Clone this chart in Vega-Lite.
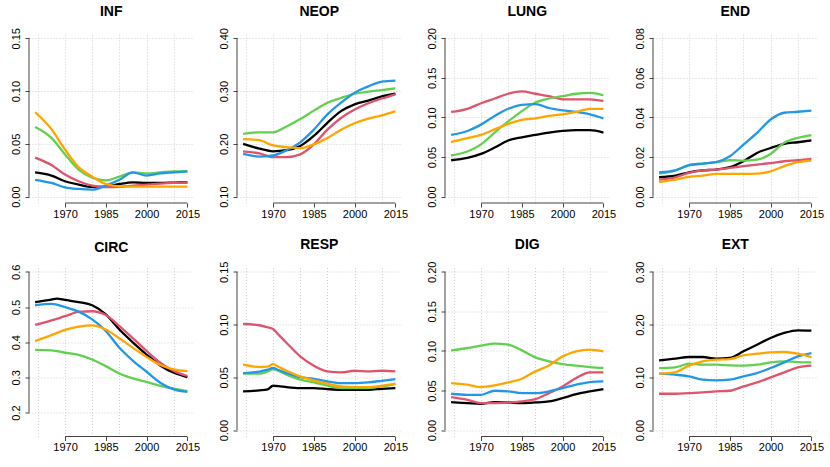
{
"$schema":"https://vega.github.io/schema/vega-lite/v6.json",
"padding":{"left":9,"top":4,"right":5,"bottom":5},
"datasets":{"d":[
{"p":"INF","s":"k","x":1959,"y":0.023},{"p":"INF","s":"k","x":1965,"y":0.020},{"p":"INF","s":"k","x":1970,"y":0.0146},{"p":"INF","s":"k","x":1975,"y":0.0114},{"p":"INF","s":"k","x":1980,"y":0.0092},{"p":"INF","s":"k","x":1985,"y":0.0095},{"p":"INF","s":"k","x":1990,"y":0.012},{"p":"INF","s":"k","x":1995,"y":0.0136},{"p":"INF","s":"k","x":2000,"y":0.013},{"p":"INF","s":"k","x":2005,"y":0.013},{"p":"INF","s":"k","x":2010,"y":0.0133},{"p":"INF","s":"k","x":2015,"y":0.0136},
{"p":"INF","s":"r","x":1959,"y":0.037},{"p":"INF","s":"r","x":1965,"y":0.030},{"p":"INF","s":"r","x":1970,"y":0.021},{"p":"INF","s":"r","x":1975,"y":0.0146},{"p":"INF","s":"r","x":1980,"y":0.0104},{"p":"INF","s":"r","x":1985,"y":0.009},{"p":"INF","s":"r","x":1990,"y":0.0092},{"p":"INF","s":"r","x":1995,"y":0.0104},{"p":"INF","s":"r","x":2000,"y":0.0114},{"p":"INF","s":"r","x":2005,"y":0.0123},{"p":"INF","s":"r","x":2010,"y":0.013},{"p":"INF","s":"r","x":2015,"y":0.0133},
{"p":"INF","s":"g","x":1959,"y":0.066},{"p":"INF","s":"g","x":1965,"y":0.0557},{"p":"INF","s":"g","x":1970,"y":0.040},{"p":"INF","s":"g","x":1975,"y":0.0256},{"p":"INF","s":"g","x":1980,"y":0.018},{"p":"INF","s":"g","x":1985,"y":0.0155},{"p":"INF","s":"g","x":1990,"y":0.019},{"p":"INF","s":"g","x":1995,"y":0.023},{"p":"INF","s":"g","x":2000,"y":0.022},{"p":"INF","s":"g","x":2005,"y":0.023},{"p":"INF","s":"g","x":2010,"y":0.024},{"p":"INF","s":"g","x":2015,"y":0.024},
{"p":"INF","s":"b","x":1959,"y":0.016},{"p":"INF","s":"b","x":1965,"y":0.013},{"p":"INF","s":"b","x":1970,"y":0.0089},{"p":"INF","s":"b","x":1975,"y":0.0073},{"p":"INF","s":"b","x":1980,"y":0.0066},{"p":"INF","s":"b","x":1985,"y":0.0104},{"p":"INF","s":"b","x":1990,"y":0.016},{"p":"INF","s":"b","x":1995,"y":0.023},{"p":"INF","s":"b","x":2000,"y":0.020},{"p":"INF","s":"b","x":2005,"y":0.022},{"p":"INF","s":"b","x":2010,"y":0.023},{"p":"INF","s":"b","x":2015,"y":0.024},
{"p":"INF","s":"o","x":1959,"y":0.080},{"p":"INF","s":"o","x":1965,"y":0.064},{"p":"INF","s":"o","x":1970,"y":0.0446},{"p":"INF","s":"o","x":1975,"y":0.028},{"p":"INF","s":"o","x":1980,"y":0.019},{"p":"INF","s":"o","x":1985,"y":0.012},{"p":"INF","s":"o","x":1990,"y":0.0098},{"p":"INF","s":"o","x":1995,"y":0.0095},{"p":"INF","s":"o","x":2000,"y":0.0095},{"p":"INF","s":"o","x":2005,"y":0.0095},{"p":"INF","s":"o","x":2010,"y":0.0095},{"p":"INF","s":"o","x":2015,"y":0.0095},
{"p":"NEOP","s":"k","x":1959,"y":0.200},{"p":"NEOP","s":"k","x":1965,"y":0.191},{"p":"NEOP","s":"k","x":1970,"y":0.186},{"p":"NEOP","s":"k","x":1975,"y":0.188},{"p":"NEOP","s":"k","x":1980,"y":0.196},{"p":"NEOP","s":"k","x":1985,"y":0.215},{"p":"NEOP","s":"k","x":1990,"y":0.240},{"p":"NEOP","s":"k","x":1995,"y":0.262},{"p":"NEOP","s":"k","x":2000,"y":0.275},{"p":"NEOP","s":"k","x":2005,"y":0.282},{"p":"NEOP","s":"k","x":2010,"y":0.290},{"p":"NEOP","s":"k","x":2015,"y":0.295},
{"p":"NEOP","s":"r","x":1959,"y":0.186},{"p":"NEOP","s":"r","x":1965,"y":0.182},{"p":"NEOP","s":"r","x":1970,"y":0.175},{"p":"NEOP","s":"r","x":1975,"y":0.175},{"p":"NEOP","s":"r","x":1980,"y":0.180},{"p":"NEOP","s":"r","x":1985,"y":0.199},{"p":"NEOP","s":"r","x":1990,"y":0.227},{"p":"NEOP","s":"r","x":1995,"y":0.249},{"p":"NEOP","s":"r","x":2000,"y":0.265},{"p":"NEOP","s":"r","x":2005,"y":0.277},{"p":"NEOP","s":"r","x":2010,"y":0.286},{"p":"NEOP","s":"r","x":2015,"y":0.294},
{"p":"NEOP","s":"g","x":1959,"y":0.219},{"p":"NEOP","s":"g","x":1965,"y":0.222},{"p":"NEOP","s":"g","x":1970,"y":0.222},{"p":"NEOP","s":"g","x":1975,"y":0.233},{"p":"NEOP","s":"g","x":1980,"y":0.247},{"p":"NEOP","s":"g","x":1985,"y":0.263},{"p":"NEOP","s":"g","x":1990,"y":0.278},{"p":"NEOP","s":"g","x":1995,"y":0.287},{"p":"NEOP","s":"g","x":2000,"y":0.295},{"p":"NEOP","s":"g","x":2005,"y":0.299},{"p":"NEOP","s":"g","x":2010,"y":0.302},{"p":"NEOP","s":"g","x":2015,"y":0.305},
{"p":"NEOP","s":"b","x":1959,"y":0.181},{"p":"NEOP","s":"b","x":1965,"y":0.176},{"p":"NEOP","s":"b","x":1970,"y":0.178},{"p":"NEOP","s":"b","x":1975,"y":0.188},{"p":"NEOP","s":"b","x":1980,"y":0.203},{"p":"NEOP","s":"b","x":1985,"y":0.227},{"p":"NEOP","s":"b","x":1990,"y":0.256},{"p":"NEOP","s":"b","x":1995,"y":0.278},{"p":"NEOP","s":"b","x":2000,"y":0.297},{"p":"NEOP","s":"b","x":2005,"y":0.309},{"p":"NEOP","s":"b","x":2010,"y":0.318},{"p":"NEOP","s":"b","x":2015,"y":0.320},
{"p":"NEOP","s":"o","x":1959,"y":0.209},{"p":"NEOP","s":"o","x":1965,"y":0.207},{"p":"NEOP","s":"o","x":1970,"y":0.197},{"p":"NEOP","s":"o","x":1975,"y":0.194},{"p":"NEOP","s":"o","x":1980,"y":0.192},{"p":"NEOP","s":"o","x":1985,"y":0.199},{"p":"NEOP","s":"o","x":1990,"y":0.211},{"p":"NEOP","s":"o","x":1995,"y":0.227},{"p":"NEOP","s":"o","x":2000,"y":0.239},{"p":"NEOP","s":"o","x":2005,"y":0.248},{"p":"NEOP","s":"o","x":2010,"y":0.254},{"p":"NEOP","s":"o","x":2015,"y":0.262},
{"p":"LUNG","s":"k","x":1959,"y":0.046},{"p":"LUNG","s":"k","x":1965,"y":0.049},{"p":"LUNG","s":"k","x":1970,"y":0.054},{"p":"LUNG","s":"k","x":1975,"y":0.062},{"p":"LUNG","s":"k","x":1980,"y":0.071},{"p":"LUNG","s":"k","x":1985,"y":0.075},{"p":"LUNG","s":"k","x":1990,"y":0.078},{"p":"LUNG","s":"k","x":1995,"y":0.081},{"p":"LUNG","s":"k","x":2000,"y":0.083},{"p":"LUNG","s":"k","x":2005,"y":0.084},{"p":"LUNG","s":"k","x":2010,"y":0.084},{"p":"LUNG","s":"k","x":2015,"y":0.081},
{"p":"LUNG","s":"r","x":1959,"y":0.107},{"p":"LUNG","s":"r","x":1965,"y":0.111},{"p":"LUNG","s":"r","x":1970,"y":0.118},{"p":"LUNG","s":"r","x":1975,"y":0.124},{"p":"LUNG","s":"r","x":1980,"y":0.130},{"p":"LUNG","s":"r","x":1985,"y":0.133},{"p":"LUNG","s":"r","x":1990,"y":0.130},{"p":"LUNG","s":"r","x":1995,"y":0.127},{"p":"LUNG","s":"r","x":2000,"y":0.123},{"p":"LUNG","s":"r","x":2005,"y":0.123},{"p":"LUNG","s":"r","x":2010,"y":0.123},{"p":"LUNG","s":"r","x":2015,"y":0.121},
{"p":"LUNG","s":"g","x":1959,"y":0.052},{"p":"LUNG","s":"g","x":1965,"y":0.057},{"p":"LUNG","s":"g","x":1970,"y":0.066},{"p":"LUNG","s":"g","x":1975,"y":0.081},{"p":"LUNG","s":"g","x":1980,"y":0.095},{"p":"LUNG","s":"g","x":1985,"y":0.108},{"p":"LUNG","s":"g","x":1990,"y":0.119},{"p":"LUNG","s":"g","x":1995,"y":0.124},{"p":"LUNG","s":"g","x":2000,"y":0.127},{"p":"LUNG","s":"g","x":2005,"y":0.130},{"p":"LUNG","s":"g","x":2010,"y":0.131},{"p":"LUNG","s":"g","x":2015,"y":0.128},
{"p":"LUNG","s":"b","x":1959,"y":0.078},{"p":"LUNG","s":"b","x":1965,"y":0.083},{"p":"LUNG","s":"b","x":1970,"y":0.091},{"p":"LUNG","s":"b","x":1975,"y":0.102},{"p":"LUNG","s":"b","x":1980,"y":0.111},{"p":"LUNG","s":"b","x":1985,"y":0.116},{"p":"LUNG","s":"b","x":1990,"y":0.117},{"p":"LUNG","s":"b","x":1995,"y":0.112},{"p":"LUNG","s":"b","x":2000,"y":0.109},{"p":"LUNG","s":"b","x":2005,"y":0.107},{"p":"LUNG","s":"b","x":2010,"y":0.104},{"p":"LUNG","s":"b","x":2015,"y":0.099},
{"p":"LUNG","s":"o","x":1959,"y":0.069},{"p":"LUNG","s":"o","x":1965,"y":0.074},{"p":"LUNG","s":"o","x":1970,"y":0.078},{"p":"LUNG","s":"o","x":1975,"y":0.085},{"p":"LUNG","s":"o","x":1980,"y":0.092},{"p":"LUNG","s":"o","x":1985,"y":0.097},{"p":"LUNG","s":"o","x":1990,"y":0.099},{"p":"LUNG","s":"o","x":1995,"y":0.102},{"p":"LUNG","s":"o","x":2000,"y":0.104},{"p":"LUNG","s":"o","x":2005,"y":0.107},{"p":"LUNG","s":"o","x":2010,"y":0.111},{"p":"LUNG","s":"o","x":2015,"y":0.111},
{"p":"END","s":"k","x":1959,"y":0.0098},{"p":"END","s":"k","x":1965,"y":0.0106},{"p":"END","s":"k","x":1970,"y":0.0123},{"p":"END","s":"k","x":1975,"y":0.0133},{"p":"END","s":"k","x":1980,"y":0.0137},{"p":"END","s":"k","x":1985,"y":0.0149},{"p":"END","s":"k","x":1990,"y":0.0179},{"p":"END","s":"k","x":1995,"y":0.0221},{"p":"END","s":"k","x":2000,"y":0.0246},{"p":"END","s":"k","x":2005,"y":0.0267},{"p":"END","s":"k","x":2010,"y":0.0275},{"p":"END","s":"k","x":2015,"y":0.0284},
{"p":"END","s":"r","x":1959,"y":0.0086},{"p":"END","s":"r","x":1965,"y":0.0098},{"p":"END","s":"r","x":1970,"y":0.0120},{"p":"END","s":"r","x":1975,"y":0.0133},{"p":"END","s":"r","x":1980,"y":0.0137},{"p":"END","s":"r","x":1985,"y":0.0145},{"p":"END","s":"r","x":1990,"y":0.0154},{"p":"END","s":"r","x":1995,"y":0.0162},{"p":"END","s":"r","x":2000,"y":0.0170},{"p":"END","s":"r","x":2005,"y":0.0179},{"p":"END","s":"r","x":2010,"y":0.0184},{"p":"END","s":"r","x":2015,"y":0.0191},
{"p":"END","s":"g","x":1959,"y":0.0116},{"p":"END","s":"g","x":1965,"y":0.0133},{"p":"END","s":"g","x":1970,"y":0.0159},{"p":"END","s":"g","x":1975,"y":0.0167},{"p":"END","s":"g","x":1980,"y":0.0174},{"p":"END","s":"g","x":1985,"y":0.0184},{"p":"END","s":"g","x":1990,"y":0.0182},{"p":"END","s":"g","x":1995,"y":0.0187},{"p":"END","s":"g","x":2000,"y":0.0216},{"p":"END","s":"g","x":2005,"y":0.0272},{"p":"END","s":"g","x":2010,"y":0.0297},{"p":"END","s":"g","x":2015,"y":0.0311},
{"p":"END","s":"b","x":1959,"y":0.0123},{"p":"END","s":"b","x":1965,"y":0.0133},{"p":"END","s":"b","x":1970,"y":0.0159},{"p":"END","s":"b","x":1975,"y":0.0167},{"p":"END","s":"b","x":1980,"y":0.0174},{"p":"END","s":"b","x":1985,"y":0.0204},{"p":"END","s":"b","x":1990,"y":0.0263},{"p":"END","s":"b","x":1995,"y":0.0322},{"p":"END","s":"b","x":2000,"y":0.0390},{"p":"END","s":"b","x":2005,"y":0.0424},{"p":"END","s":"b","x":2010,"y":0.0429},{"p":"END","s":"b","x":2015,"y":0.0435},
{"p":"END","s":"o","x":1959,"y":0.0074},{"p":"END","s":"o","x":1965,"y":0.0086},{"p":"END","s":"o","x":1970,"y":0.0100},{"p":"END","s":"o","x":1975,"y":0.0106},{"p":"END","s":"o","x":1980,"y":0.0115},{"p":"END","s":"o","x":1985,"y":0.0115},{"p":"END","s":"o","x":1990,"y":0.0115},{"p":"END","s":"o","x":1995,"y":0.0116},{"p":"END","s":"o","x":2000,"y":0.0128},{"p":"END","s":"o","x":2005,"y":0.0154},{"p":"END","s":"o","x":2010,"y":0.0174},{"p":"END","s":"o","x":2015,"y":0.0182},
{"p":"CIRC","s":"k","x":1959,"y":0.514},{"p":"CIRC","s":"k","x":1965,"y":0.521},{"p":"CIRC","s":"k","x":1967,"y":0.524},{"p":"CIRC","s":"k","x":1970,"y":0.520},{"p":"CIRC","s":"k","x":1975,"y":0.514},{"p":"CIRC","s":"k","x":1980,"y":0.505},{"p":"CIRC","s":"k","x":1985,"y":0.479},{"p":"CIRC","s":"k","x":1990,"y":0.436},{"p":"CIRC","s":"k","x":1995,"y":0.399},{"p":"CIRC","s":"k","x":2000,"y":0.365},{"p":"CIRC","s":"k","x":2005,"y":0.334},{"p":"CIRC","s":"k","x":2010,"y":0.313},{"p":"CIRC","s":"k","x":2015,"y":0.301},
{"p":"CIRC","s":"r","x":1959,"y":0.449},{"p":"CIRC","s":"r","x":1965,"y":0.462},{"p":"CIRC","s":"r","x":1970,"y":0.474},{"p":"CIRC","s":"r","x":1975,"y":0.486},{"p":"CIRC","s":"r","x":1980,"y":0.488},{"p":"CIRC","s":"r","x":1985,"y":0.477},{"p":"CIRC","s":"r","x":1990,"y":0.446},{"p":"CIRC","s":"r","x":1995,"y":0.411},{"p":"CIRC","s":"r","x":2000,"y":0.375},{"p":"CIRC","s":"r","x":2005,"y":0.342},{"p":"CIRC","s":"r","x":2010,"y":0.318},{"p":"CIRC","s":"r","x":2015,"y":0.304},
{"p":"CIRC","s":"g","x":1959,"y":0.378},{"p":"CIRC","s":"g","x":1965,"y":0.377},{"p":"CIRC","s":"g","x":1970,"y":0.370},{"p":"CIRC","s":"g","x":1975,"y":0.364},{"p":"CIRC","s":"g","x":1980,"y":0.351},{"p":"CIRC","s":"g","x":1985,"y":0.332},{"p":"CIRC","s":"g","x":1990,"y":0.311},{"p":"CIRC","s":"g","x":1995,"y":0.297},{"p":"CIRC","s":"g","x":2000,"y":0.287},{"p":"CIRC","s":"g","x":2005,"y":0.276},{"p":"CIRC","s":"g","x":2010,"y":0.268},{"p":"CIRC","s":"g","x":2015,"y":0.261},
{"p":"CIRC","s":"b","x":1959,"y":0.505},{"p":"CIRC","s":"b","x":1965,"y":0.509},{"p":"CIRC","s":"b","x":1970,"y":0.500},{"p":"CIRC","s":"b","x":1975,"y":0.487},{"p":"CIRC","s":"b","x":1980,"y":0.465},{"p":"CIRC","s":"b","x":1985,"y":0.432},{"p":"CIRC","s":"b","x":1990,"y":0.384},{"p":"CIRC","s":"b","x":1995,"y":0.347},{"p":"CIRC","s":"b","x":2000,"y":0.316},{"p":"CIRC","s":"b","x":2005,"y":0.285},{"p":"CIRC","s":"b","x":2010,"y":0.266},{"p":"CIRC","s":"b","x":2015,"y":0.259},
{"p":"CIRC","s":"o","x":1959,"y":0.403},{"p":"CIRC","s":"o","x":1965,"y":0.420},{"p":"CIRC","s":"o","x":1970,"y":0.435},{"p":"CIRC","s":"o","x":1975,"y":0.444},{"p":"CIRC","s":"o","x":1980,"y":0.448},{"p":"CIRC","s":"o","x":1985,"y":0.436},{"p":"CIRC","s":"o","x":1990,"y":0.411},{"p":"CIRC","s":"o","x":1995,"y":0.384},{"p":"CIRC","s":"o","x":2000,"y":0.358},{"p":"CIRC","s":"o","x":2005,"y":0.335},{"p":"CIRC","s":"o","x":2010,"y":0.323},{"p":"CIRC","s":"o","x":2015,"y":0.318},
{"p":"RESP","s":"k","x":1959,"y":0.0367},{"p":"RESP","s":"k","x":1965,"y":0.0377},{"p":"RESP","s":"k","x":1968,"y":0.0387},{"p":"RESP","s":"k","x":1970,"y":0.0421},{"p":"RESP","s":"k","x":1972,"y":0.0418},{"p":"RESP","s":"k","x":1975,"y":0.0408},{"p":"RESP","s":"k","x":1980,"y":0.0399},{"p":"RESP","s":"k","x":1985,"y":0.0399},{"p":"RESP","s":"k","x":1990,"y":0.0389},{"p":"RESP","s":"k","x":1995,"y":0.0383},{"p":"RESP","s":"k","x":2000,"y":0.0383},{"p":"RESP","s":"k","x":2005,"y":0.0383},{"p":"RESP","s":"k","x":2010,"y":0.0392},{"p":"RESP","s":"k","x":2015,"y":0.0399},
{"p":"RESP","s":"r","x":1959,"y":0.1006},{"p":"RESP","s":"r","x":1965,"y":0.0994},{"p":"RESP","s":"r","x":1968,"y":0.0975},{"p":"RESP","s":"r","x":1970,"y":0.0959},{"p":"RESP","s":"r","x":1972,"y":0.0905},{"p":"RESP","s":"r","x":1975,"y":0.0826},{"p":"RESP","s":"r","x":1980,"y":0.0699},{"p":"RESP","s":"r","x":1985,"y":0.0611},{"p":"RESP","s":"r","x":1990,"y":0.0557},{"p":"RESP","s":"r","x":1995,"y":0.0547},{"p":"RESP","s":"r","x":2000,"y":0.0563},{"p":"RESP","s":"r","x":2005,"y":0.0557},{"p":"RESP","s":"r","x":2010,"y":0.0563},{"p":"RESP","s":"r","x":2015,"y":0.0557},
{"p":"RESP","s":"g","x":1959,"y":0.0535},{"p":"RESP","s":"g","x":1965,"y":0.0535},{"p":"RESP","s":"g","x":1968,"y":0.0556},{"p":"RESP","s":"g","x":1970,"y":0.0579},{"p":"RESP","s":"g","x":1972,"y":0.0560},{"p":"RESP","s":"g","x":1975,"y":0.0525},{"p":"RESP","s":"g","x":1980,"y":0.0478},{"p":"RESP","s":"g","x":1985,"y":0.0453},{"p":"RESP","s":"g","x":1990,"y":0.0421},{"p":"RESP","s":"g","x":1995,"y":0.0399},{"p":"RESP","s":"g","x":2000,"y":0.0399},{"p":"RESP","s":"g","x":2005,"y":0.0399},{"p":"RESP","s":"g","x":2010,"y":0.0415},{"p":"RESP","s":"g","x":2015,"y":0.0437},
{"p":"RESP","s":"b","x":1959,"y":0.0541},{"p":"RESP","s":"b","x":1965,"y":0.0555},{"p":"RESP","s":"b","x":1968,"y":0.0573},{"p":"RESP","s":"b","x":1970,"y":0.0589},{"p":"RESP","s":"b","x":1972,"y":0.0570},{"p":"RESP","s":"b","x":1975,"y":0.0541},{"p":"RESP","s":"b","x":1980,"y":0.0503},{"p":"RESP","s":"b","x":1985,"y":0.0487},{"p":"RESP","s":"b","x":1990,"y":0.0462},{"p":"RESP","s":"b","x":1995,"y":0.0446},{"p":"RESP","s":"b","x":2000,"y":0.0446},{"p":"RESP","s":"b","x":2005,"y":0.0453},{"p":"RESP","s":"b","x":2010,"y":0.0468},{"p":"RESP","s":"b","x":2015,"y":0.0484},
{"p":"RESP","s":"o","x":1959,"y":0.062},{"p":"RESP","s":"o","x":1965,"y":0.0598},{"p":"RESP","s":"o","x":1968,"y":0.0602},{"p":"RESP","s":"o","x":1970,"y":0.0625},{"p":"RESP","s":"o","x":1972,"y":0.0600},{"p":"RESP","s":"o","x":1975,"y":0.0563},{"p":"RESP","s":"o","x":1980,"y":0.0509},{"p":"RESP","s":"o","x":1985,"y":0.0472},{"p":"RESP","s":"o","x":1990,"y":0.044},{"p":"RESP","s":"o","x":1995,"y":0.0415},{"p":"RESP","s":"o","x":2000,"y":0.0408},{"p":"RESP","s":"o","x":2005,"y":0.0408},{"p":"RESP","s":"o","x":2010,"y":0.0421},{"p":"RESP","s":"o","x":2015,"y":0.044},
{"p":"DIG","s":"k","x":1959,"y":0.0354},{"p":"DIG","s":"k","x":1965,"y":0.0342},{"p":"DIG","s":"k","x":1970,"y":0.0333},{"p":"DIG","s":"k","x":1975,"y":0.0354},{"p":"DIG","s":"k","x":1980,"y":0.035},{"p":"DIG","s":"k","x":1985,"y":0.0342},{"p":"DIG","s":"k","x":1990,"y":0.035},{"p":"DIG","s":"k","x":1995,"y":0.0363},{"p":"DIG","s":"k","x":2000,"y":0.0405},{"p":"DIG","s":"k","x":2005,"y":0.0456},{"p":"DIG","s":"k","x":2010,"y":0.0489},{"p":"DIG","s":"k","x":2015,"y":0.0519},
{"p":"DIG","s":"r","x":1959,"y":0.0418},{"p":"DIG","s":"r","x":1965,"y":0.0384},{"p":"DIG","s":"r","x":1970,"y":0.0342},{"p":"DIG","s":"r","x":1975,"y":0.0342},{"p":"DIG","s":"r","x":1980,"y":0.035},{"p":"DIG","s":"r","x":1985,"y":0.0363},{"p":"DIG","s":"r","x":1990,"y":0.0392},{"p":"DIG","s":"r","x":1995,"y":0.0468},{"p":"DIG","s":"r","x":2000,"y":0.0553},{"p":"DIG","s":"r","x":2005,"y":0.0658},{"p":"DIG","s":"r","x":2010,"y":0.073},{"p":"DIG","s":"r","x":2015,"y":0.073},
{"p":"DIG","s":"g","x":1959,"y":0.1008},{"p":"DIG","s":"g","x":1965,"y":0.1038},{"p":"DIG","s":"g","x":1970,"y":0.1068},{"p":"DIG","s":"g","x":1975,"y":0.1093},{"p":"DIG","s":"g","x":1980,"y":0.108},{"p":"DIG","s":"g","x":1985,"y":0.1008},{"p":"DIG","s":"g","x":1990,"y":0.092},{"p":"DIG","s":"g","x":1995,"y":0.0869},{"p":"DIG","s":"g","x":2000,"y":0.0835},{"p":"DIG","s":"g","x":2005,"y":0.0814},{"p":"DIG","s":"g","x":2010,"y":0.0797},{"p":"DIG","s":"g","x":2015,"y":0.0785},
{"p":"DIG","s":"b","x":1959,"y":0.046},{"p":"DIG","s":"b","x":1965,"y":0.0447},{"p":"DIG","s":"b","x":1970,"y":0.0447},{"p":"DIG","s":"b","x":1975,"y":0.0498},{"p":"DIG","s":"b","x":1980,"y":0.049},{"p":"DIG","s":"b","x":1985,"y":0.0468},{"p":"DIG","s":"b","x":1990,"y":0.0468},{"p":"DIG","s":"b","x":1995,"y":0.049},{"p":"DIG","s":"b","x":2000,"y":0.0532},{"p":"DIG","s":"b","x":2005,"y":0.0574},{"p":"DIG","s":"b","x":2010,"y":0.0608},{"p":"DIG","s":"b","x":2015,"y":0.0616},
{"p":"DIG","s":"o","x":1959,"y":0.0595},{"p":"DIG","s":"o","x":1965,"y":0.0574},{"p":"DIG","s":"o","x":1970,"y":0.0544},{"p":"DIG","s":"o","x":1975,"y":0.0565},{"p":"DIG","s":"o","x":1980,"y":0.0603},{"p":"DIG","s":"o","x":1985,"y":0.065},{"p":"DIG","s":"o","x":1990,"y":0.0743},{"p":"DIG","s":"o","x":1995,"y":0.0818},{"p":"DIG","s":"o","x":2000,"y":0.0932},{"p":"DIG","s":"o","x":2005,"y":0.0996},{"p":"DIG","s":"o","x":2010,"y":0.1017},{"p":"DIG","s":"o","x":2015,"y":0.0996},
{"p":"EXT","s":"k","x":1959,"y":0.1323},{"p":"EXT","s":"k","x":1965,"y":0.1354},{"p":"EXT","s":"k","x":1970,"y":0.1386},{"p":"EXT","s":"k","x":1975,"y":0.1386},{"p":"EXT","s":"k","x":1980,"y":0.1354},{"p":"EXT","s":"k","x":1985,"y":0.1367},{"p":"EXT","s":"k","x":1990,"y":0.1494},{"p":"EXT","s":"k","x":1995,"y":0.162},{"p":"EXT","s":"k","x":2000,"y":0.1747},{"p":"EXT","s":"k","x":2005,"y":0.1842},{"p":"EXT","s":"k","x":2010,"y":0.1892},{"p":"EXT","s":"k","x":2015,"y":0.1886},
{"p":"EXT","s":"r","x":1959,"y":0.069},{"p":"EXT","s":"r","x":1965,"y":0.069},{"p":"EXT","s":"r","x":1970,"y":0.0703},{"p":"EXT","s":"r","x":1975,"y":0.0715},{"p":"EXT","s":"r","x":1980,"y":0.0734},{"p":"EXT","s":"r","x":1985,"y":0.0747},{"p":"EXT","s":"r","x":1990,"y":0.0829},{"p":"EXT","s":"r","x":1995,"y":0.0905},{"p":"EXT","s":"r","x":2000,"y":0.1},{"p":"EXT","s":"r","x":2005,"y":0.1095},{"p":"EXT","s":"r","x":2010,"y":0.119},{"p":"EXT","s":"r","x":2015,"y":0.1222},
{"p":"EXT","s":"g","x":1959,"y":0.1177},{"p":"EXT","s":"g","x":1965,"y":0.119},{"p":"EXT","s":"g","x":1970,"y":0.126},{"p":"EXT","s":"g","x":1975,"y":0.1241},{"p":"EXT","s":"g","x":1980,"y":0.1241},{"p":"EXT","s":"g","x":1985,"y":0.1228},{"p":"EXT","s":"g","x":1990,"y":0.1222},{"p":"EXT","s":"g","x":1995,"y":0.1241},{"p":"EXT","s":"g","x":2000,"y":0.1285},{"p":"EXT","s":"g","x":2005,"y":0.1304},{"p":"EXT","s":"g","x":2010,"y":0.1291},{"p":"EXT","s":"g","x":2015,"y":0.1285},
{"p":"EXT","s":"b","x":1959,"y":0.107},{"p":"EXT","s":"b","x":1965,"y":0.1051},{"p":"EXT","s":"b","x":1970,"y":0.1019},{"p":"EXT","s":"b","x":1975,"y":0.0956},{"p":"EXT","s":"b","x":1980,"y":0.0943},{"p":"EXT","s":"b","x":1985,"y":0.0956},{"p":"EXT","s":"b","x":1990,"y":0.1019},{"p":"EXT","s":"b","x":1995,"y":0.1082},{"p":"EXT","s":"b","x":2000,"y":0.1177},{"p":"EXT","s":"b","x":2005,"y":0.1285},{"p":"EXT","s":"b","x":2010,"y":0.1399},{"p":"EXT","s":"b","x":2015,"y":0.1462},
{"p":"EXT","s":"o","x":1959,"y":0.107},{"p":"EXT","s":"o","x":1965,"y":0.1101},{"p":"EXT","s":"o","x":1970,"y":0.1222},{"p":"EXT","s":"o","x":1975,"y":0.1304},{"p":"EXT","s":"o","x":1980,"y":0.1335},{"p":"EXT","s":"o","x":1985,"y":0.1348},{"p":"EXT","s":"o","x":1990,"y":0.1418},{"p":"EXT","s":"o","x":1995,"y":0.1449},{"p":"EXT","s":"o","x":2000,"y":0.1475},{"p":"EXT","s":"o","x":2005,"y":0.1481},{"p":"EXT","s":"o","x":2010,"y":0.1449},{"p":"EXT","s":"o","x":2015,"y":0.1386}
]},
"columns":4,
"spacing":{"row":62.5,"column":43},
"bounds":"flush",
"concat":[
{"title":"INF","width":164.5,"height":171,"resolve":{"axis":{"x":"independent"}},"layer":[
 {"data":{"name":"d"},"transform":[{"filter":"datum.p==='INF'"}],"mark":"line","encoding":{
  "x":{"field":"x","type":"quantitative","title":null,"scale":{"domain":[1956.76,2017.24],"nice":false,"zero":false},"axis":{"values":[1970,1985,2000,2015],"format":"d","grid":false}},
  "y":{"field":"y","type":"quantitative","title":null,"scale":{"domain":[-0.006,0.156],"nice":false,"zero":false},"axis":{"values":[0,0.05,0.1,0.15],"format":".2f"}},
  "color":{"field":"s","type":"nominal","scale":{"domain":["k","r","g","b","o"],"range":["#000000","#DF536B","#61D04F","#2297E6","#FFA500"]},"legend":null}}},
 {"data":{"values":[{}]},"mark":"rule","encoding":{"x":{"datum":1970,"type":"quantitative","title":null,"axis":{"orient":"top","grid":true,"values":[1960,1970,1980,1990,2000,2010],"labels":false,"ticks":false,"domain":false}},"x2":{"datum":2015},"y":{"datum":-0.006,"type":"quantitative","title":null}}},
 {"data":{"values":[{}]},"mark":"rule","encoding":{"x":{"datum":1956.76,"type":"quantitative","title":null,"axis":null},"y":{"datum":0,"type":"quantitative","title":null},"y2":{"datum":0.15}}}
]},
{"title":"NEOP","width":164.5,"height":171,"resolve":{"axis":{"x":"independent"}},"layer":[
 {"data":{"name":"d"},"transform":[{"filter":"datum.p==='NEOP'"}],"mark":"line","encoding":{
  "x":{"field":"x","type":"quantitative","title":null,"scale":{"domain":[1956.76,2017.24],"nice":false,"zero":false},"axis":{"values":[1970,1985,2000,2015],"format":"d","grid":false}},
  "y":{"field":"y","type":"quantitative","title":null,"scale":{"domain":[0.088,0.412],"nice":false,"zero":false},"axis":{"values":[0.1,0.15,0.2,0.25,0.3,0.35,0.4],"labelExpr":"round(datum.value*100)%10==0 ? format(datum.value,'.2f') : ''"}},
  "color":{"field":"s","type":"nominal","scale":{"domain":["k","r","g","b","o"],"range":["#000000","#DF536B","#61D04F","#2297E6","#FFA500"]},"legend":null}}},
 {"data":{"values":[{}]},"mark":"rule","encoding":{"x":{"datum":1970,"type":"quantitative","title":null,"axis":{"orient":"top","grid":true,"values":[1960,1970,1980,1990,2000,2010],"labels":false,"ticks":false,"domain":false}},"x2":{"datum":2015},"y":{"datum":0.088,"type":"quantitative","title":null}}},
 {"data":{"values":[{}]},"mark":"rule","encoding":{"x":{"datum":1956.76,"type":"quantitative","title":null,"axis":null},"y":{"datum":0.1,"type":"quantitative","title":null},"y2":{"datum":0.4}}}
]},
{"title":"LUNG","width":164.5,"height":171,"resolve":{"axis":{"x":"independent"}},"layer":[
 {"data":{"name":"d"},"transform":[{"filter":"datum.p==='LUNG'"}],"mark":"line","encoding":{
  "x":{"field":"x","type":"quantitative","title":null,"scale":{"domain":[1956.76,2017.24],"nice":false,"zero":false},"axis":{"values":[1970,1985,2000,2015],"format":"d","grid":false}},
  "y":{"field":"y","type":"quantitative","title":null,"scale":{"domain":[-0.008,0.208],"nice":false,"zero":false},"axis":{"values":[0,0.05,0.1,0.15,0.2],"format":".2f"}},
  "color":{"field":"s","type":"nominal","scale":{"domain":["k","r","g","b","o"],"range":["#000000","#DF536B","#61D04F","#2297E6","#FFA500"]},"legend":null}}},
 {"data":{"values":[{}]},"mark":"rule","encoding":{"x":{"datum":1970,"type":"quantitative","title":null,"axis":{"orient":"top","grid":true,"values":[1960,1970,1980,1990,2000,2010],"labels":false,"ticks":false,"domain":false}},"x2":{"datum":2015},"y":{"datum":-0.008,"type":"quantitative","title":null}}},
 {"data":{"values":[{}]},"mark":"rule","encoding":{"x":{"datum":1956.76,"type":"quantitative","title":null,"axis":null},"y":{"datum":0,"type":"quantitative","title":null},"y2":{"datum":0.2}}}
]},
{"title":"END","width":164.5,"height":171,"resolve":{"axis":{"x":"independent"}},"layer":[
 {"data":{"name":"d"},"transform":[{"filter":"datum.p==='END'"}],"mark":"line","encoding":{
  "x":{"field":"x","type":"quantitative","title":null,"scale":{"domain":[1956.76,2017.24],"nice":false,"zero":false},"axis":{"values":[1970,1985,2000,2015],"format":"d","grid":false}},
  "y":{"field":"y","type":"quantitative","title":null,"scale":{"domain":[-0.0032,0.0832],"nice":false,"zero":false},"axis":{"values":[0,0.02,0.04,0.06,0.08],"format":".2f"}},
  "color":{"field":"s","type":"nominal","scale":{"domain":["k","r","g","b","o"],"range":["#000000","#DF536B","#61D04F","#2297E6","#FFA500"]},"legend":null}}},
 {"data":{"values":[{}]},"mark":"rule","encoding":{"x":{"datum":1970,"type":"quantitative","title":null,"axis":{"orient":"top","grid":true,"values":[1960,1970,1980,1990,2000,2010],"labels":false,"ticks":false,"domain":false}},"x2":{"datum":2015},"y":{"datum":-0.0032,"type":"quantitative","title":null}}},
 {"data":{"values":[{}]},"mark":"rule","encoding":{"x":{"datum":1956.76,"type":"quantitative","title":null,"axis":null},"y":{"datum":0,"type":"quantitative","title":null},"y2":{"datum":0.08}}}
]},
{"title":"CIRC","width":164.5,"height":171,"resolve":{"axis":{"x":"independent"}},"layer":[
 {"data":{"name":"d"},"transform":[{"filter":"datum.p==='CIRC'"}],"mark":"line","encoding":{
  "x":{"field":"x","type":"quantitative","title":null,"scale":{"domain":[1956.76,2017.24],"nice":false,"zero":false},"axis":{"values":[1970,1985,2000,2015],"format":"d","grid":false}},
  "y":{"field":"y","type":"quantitative","title":null,"scale":{"domain":[0.132,0.618],"nice":false,"zero":false},"axis":{"values":[0.2,0.3,0.4,0.5,0.6],"format":".1f"}},
  "color":{"field":"s","type":"nominal","scale":{"domain":["k","r","g","b","o"],"range":["#000000","#DF536B","#61D04F","#2297E6","#FFA500"]},"legend":null}}},
 {"data":{"values":[{}]},"mark":"rule","encoding":{"x":{"datum":1970,"type":"quantitative","title":null,"axis":{"orient":"top","grid":true,"values":[1960,1970,1980,1990,2000,2010],"labels":false,"ticks":false,"domain":false}},"x2":{"datum":2015},"y":{"datum":0.132,"type":"quantitative","title":null}}},
 {"data":{"values":[{}]},"mark":"rule","encoding":{"x":{"datum":1956.76,"type":"quantitative","title":null,"axis":null},"y":{"datum":0.2,"type":"quantitative","title":null},"y2":{"datum":0.6}}}
]},
{"title":"RESP","width":164.5,"height":171,"resolve":{"axis":{"x":"independent"}},"layer":[
 {"data":{"name":"d"},"transform":[{"filter":"datum.p==='RESP'"}],"mark":"line","encoding":{
  "x":{"field":"x","type":"quantitative","title":null,"scale":{"domain":[1956.76,2017.24],"nice":false,"zero":false},"axis":{"values":[1970,1985,2000,2015],"format":"d","grid":false}},
  "y":{"field":"y","type":"quantitative","title":null,"scale":{"domain":[-0.006,0.156],"nice":false,"zero":false},"axis":{"values":[0,0.05,0.1,0.15],"format":".2f"}},
  "color":{"field":"s","type":"nominal","scale":{"domain":["k","r","g","b","o"],"range":["#000000","#DF536B","#61D04F","#2297E6","#FFA500"]},"legend":null}}},
 {"data":{"values":[{}]},"mark":"rule","encoding":{"x":{"datum":1970,"type":"quantitative","title":null,"axis":{"orient":"top","grid":true,"values":[1960,1970,1980,1990,2000,2010],"labels":false,"ticks":false,"domain":false}},"x2":{"datum":2015},"y":{"datum":-0.006,"type":"quantitative","title":null}}},
 {"data":{"values":[{}]},"mark":"rule","encoding":{"x":{"datum":1956.76,"type":"quantitative","title":null,"axis":null},"y":{"datum":0,"type":"quantitative","title":null},"y2":{"datum":0.15}}}
]},
{"title":"DIG","width":164.5,"height":171,"resolve":{"axis":{"x":"independent"}},"layer":[
 {"data":{"name":"d"},"transform":[{"filter":"datum.p==='DIG'"}],"mark":"line","encoding":{
  "x":{"field":"x","type":"quantitative","title":null,"scale":{"domain":[1956.76,2017.24],"nice":false,"zero":false},"axis":{"values":[1970,1985,2000,2015],"format":"d","grid":false}},
  "y":{"field":"y","type":"quantitative","title":null,"scale":{"domain":[-0.008,0.208],"nice":false,"zero":false},"axis":{"values":[0,0.05,0.1,0.15,0.2],"format":".2f"}},
  "color":{"field":"s","type":"nominal","scale":{"domain":["k","r","g","b","o"],"range":["#000000","#DF536B","#61D04F","#2297E6","#FFA500"]},"legend":null}}},
 {"data":{"values":[{}]},"mark":"rule","encoding":{"x":{"datum":1970,"type":"quantitative","title":null,"axis":{"orient":"top","grid":true,"values":[1960,1970,1980,1990,2000,2010],"labels":false,"ticks":false,"domain":false}},"x2":{"datum":2015},"y":{"datum":-0.008,"type":"quantitative","title":null}}},
 {"data":{"values":[{}]},"mark":"rule","encoding":{"x":{"datum":1956.76,"type":"quantitative","title":null,"axis":null},"y":{"datum":0,"type":"quantitative","title":null},"y2":{"datum":0.2}}}
]},
{"title":"EXT","width":164.5,"height":171,"resolve":{"axis":{"x":"independent"}},"layer":[
 {"data":{"name":"d"},"transform":[{"filter":"datum.p==='EXT'"}],"mark":"line","encoding":{
  "x":{"field":"x","type":"quantitative","title":null,"scale":{"domain":[1956.76,2017.24],"nice":false,"zero":false},"axis":{"values":[1970,1985,2000,2015],"format":"d","grid":false}},
  "y":{"field":"y","type":"quantitative","title":null,"scale":{"domain":[-0.012,0.312],"nice":false,"zero":false},"axis":{"values":[0,0.05,0.1,0.15,0.2,0.25,0.3],"labelExpr":"round(datum.value*100)%10==0 ? format(datum.value,'.2f') : ''"}},
  "color":{"field":"s","type":"nominal","scale":{"domain":["k","r","g","b","o"],"range":["#000000","#DF536B","#61D04F","#2297E6","#FFA500"]},"legend":null}}},
 {"data":{"values":[{}]},"mark":"rule","encoding":{"x":{"datum":1970,"type":"quantitative","title":null,"axis":{"orient":"top","grid":true,"values":[1960,1970,1980,1990,2000,2010],"labels":false,"ticks":false,"domain":false}},"x2":{"datum":2015},"y":{"datum":-0.012,"type":"quantitative","title":null}}},
 {"data":{"values":[{}]},"mark":"rule","encoding":{"x":{"datum":1956.76,"type":"quantitative","title":null,"axis":null},"y":{"datum":0,"type":"quantitative","title":null},"y2":{"datum":0.3}}}
]}
],
"config":{
 "view":{"stroke":null},
 "font":"Liberation Sans",
 "axis":{"labelFont":"Liberation Sans","labelFontSize":11,"labelColor":"#000000","tickColor":"#444444","tickSize":4,"gridColor":"#d0d0d0","gridDash":[1,2],"domain":false},
 "axisY":{"labelAngle":270,"labelAlign":"center","labelBaseline":"bottom","labelPadding":4,"grid":true},
 "axisX":{"labelPadding":1,"labelBaseline":"top","labelFlush":false,"labelOverlap":false},
 "title":{"font":"Liberation Sans","fontSize":14,"fontWeight":"bold","offset":9,"anchor":"middle","frame":"group","color":"#000000"},
 "rule":{"color":"#444444","strokeWidth":1},
 "line":{"strokeWidth":2.3,"interpolate":"monotone"}
}
}
